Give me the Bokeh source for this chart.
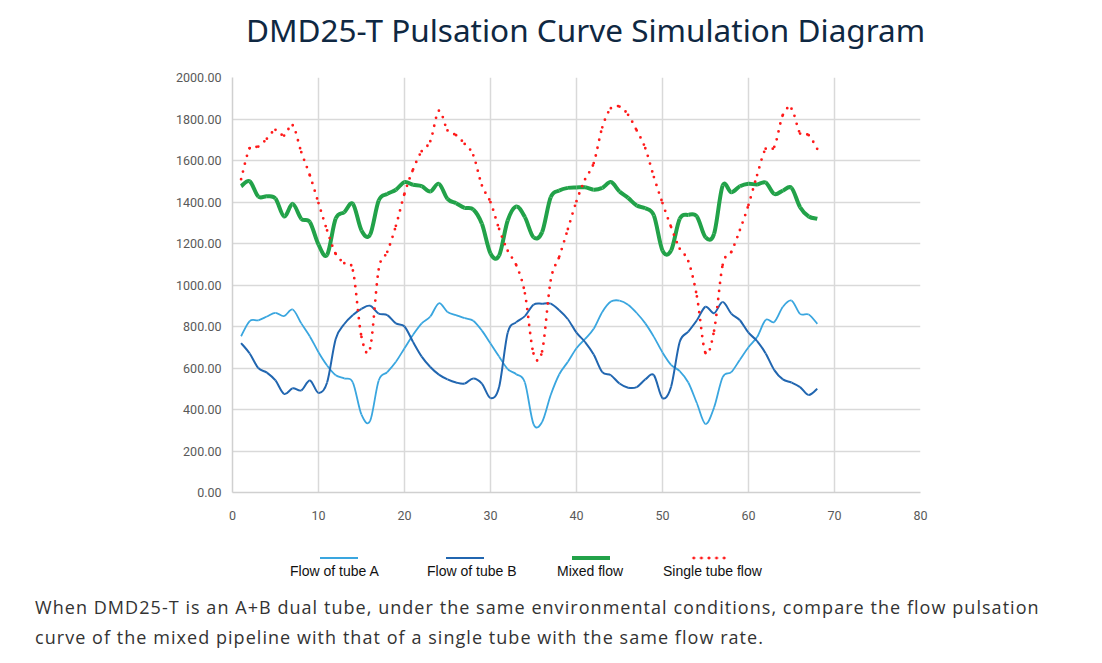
from bokeh.plotting import figure
from bokeh.models import Range1d, FixedTicker, PrintfTickFormatter, Div
from bokeh.layouts import column
from bokeh.embed import file_html
from bokeh.resources import INLINE

# ---------------------------------------------------------------- data
x_points = list(range(1, 69))

flow_a = [
    753, 826, 830, 848, 866, 850, 882, 815, 752, 676,
    612, 565, 550, 530, 375, 345, 540, 580, 630, 695,
    760, 815, 848, 912, 870, 855, 840, 828, 780, 718,
    655, 595, 570, 530, 330, 340, 470, 570, 630, 695,
    740, 789, 870, 920, 925, 905, 865, 815, 750, 675,
    615, 585, 530, 430, 330, 410, 556, 580, 640, 700,
    749, 832, 822, 895, 925, 861, 858, 813,
]

flow_b = [
    720, 670, 600, 578, 540, 475, 502, 492, 540, 480,
    530, 740, 812, 855, 885, 900, 862, 855, 815, 800,
    725, 655, 605, 568, 545, 530, 525, 550, 525, 455,
    508, 770, 821, 850, 905, 910, 910, 878, 835, 770,
    725, 665, 580, 565, 525, 505, 508, 545, 565, 455,
    510, 725, 775, 830, 895, 864, 918, 862, 830, 770,
    730, 670, 590, 545, 530, 508, 470, 500,
]

mixed_flow = [
    1476, 1500, 1426, 1428, 1417, 1330, 1391, 1319, 1303, 1195,
    1145, 1320, 1351, 1391, 1263, 1242, 1407, 1439, 1459, 1496,
    1483, 1476, 1451, 1488, 1415, 1394, 1372, 1364, 1295, 1152,
    1142, 1311, 1378, 1327, 1230, 1255, 1423, 1455, 1468, 1470,
    1471, 1459, 1468, 1496, 1451, 1420, 1383, 1370, 1335, 1166,
    1166, 1319, 1338, 1330, 1230, 1247, 1479, 1447, 1476, 1488,
    1484, 1494, 1439, 1455, 1468, 1375, 1330, 1319,
]

single_flow = [
    1510, 1660, 1667, 1705, 1748, 1720, 1770, 1640, 1528, 1395,
    1263, 1150, 1105, 1070, 750, 695, 1075, 1160, 1285, 1440,
    1557, 1645, 1693, 1840, 1745, 1722, 1680, 1625, 1480, 1399,
    1270, 1165, 1095, 960, 670, 680, 1022, 1137, 1270, 1404,
    1510, 1587, 1760, 1852, 1860, 1820, 1745, 1659, 1520, 1395,
    1279, 1175, 1115, 945, 672, 780, 1097, 1160, 1265, 1386,
    1530, 1657, 1666, 1820, 1850, 1730, 1722, 1655,
]

x_ticks = [0, 10, 20, 30, 40, 50, 60, 70, 80]
y_ticks = [0, 200, 400, 600, 800, 1000, 1200, 1400, 1600, 1800, 2000]

series_names = ["Flow of tube A", "Flow of tube B", "Mixed flow", "Single tube flow"]

title_text = "DMD25-T Pulsation Curve Simulation Diagram"
caption_lines = [
    "When DMD25-T is an A+B dual tube, under the same environmental conditions, compare the flow pulsation",
    "curve of the mixed pipeline with that of a single tube with the same flow rate.",
]

colors = ["#3aa6df", "#2166b0", "#22a249", "#ff1a1a"]


def smooth_segments(xs, ys):
    """Bezier pieces for an Excel-like smoothed line (Catmull-Rom)."""
    n = len(xs)
    seg = dict(x0=[], y0=[], x1=[], y1=[], cx0=[], cy0=[], cx1=[], cy1=[])
    for i in range(n - 1):
        a = max(i - 1, 0)
        d = min(i + 2, n - 1)
        seg['x0'].append(xs[i])
        seg['y0'].append(ys[i])
        seg['x1'].append(xs[i + 1])
        seg['y1'].append(ys[i + 1])
        seg['cx0'].append(xs[i] + (xs[i + 1] - xs[a]) / 6)
        seg['cy0'].append(ys[i] + (ys[i + 1] - ys[a]) / 6)
        seg['cx1'].append(xs[i + 1] - (xs[d] - xs[i]) / 6)
        seg['cy1'].append(ys[i + 1] - (ys[d] - ys[i]) / 6)
    return seg


# --------------------------------------------------------------- title
title_div = Div(
    text=f"<div style=\"padding:12px 0 0 246px;line-height:36px;white-space:nowrap;"
         f"font-family:'Noto Sans';font-size:31.5px;color:#0f2842;\">{title_text}</div>",
    width=1086, height=54, margin=0,
)

# -------------------------------------------------------------- figure
p = figure(
    width=1086, height=478,
    x_range=Range1d(0, 80), y_range=Range1d(0, 2000),
    output_backend="svg", toolbar_location=None, tools="",
    min_border_left=232, min_border_right=166,
    min_border_top=23, min_border_bottom=40,
    margin=0,
)
p.outline_line_color = None
p.background_fill_color = "white"

# axes and grid
for ax in (p.xaxis, p.yaxis):
    ax.axis_line_color = "#d0d0d0"
    ax.axis_line_width = 1.5
    ax.major_tick_line_color = None
    ax.minor_tick_line_color = None
    ax.major_label_text_font = "Roboto"
    ax.major_label_text_font_size = "12.5px"
    ax.major_label_text_color = "#595959"

p.xaxis.ticker = FixedTicker(ticks=x_ticks)
p.yaxis.ticker = FixedTicker(ticks=y_ticks)
p.yaxis.formatter = PrintfTickFormatter(format="%.2f")
p.xaxis.major_label_standoff = 12
p.yaxis.major_label_standoff = 5

p.xgrid.grid_line_color = "#d9d9d9"
p.ygrid.grid_line_color = "#d9d9d9"
p.xgrid.grid_line_width = 1.5
p.ygrid.grid_line_width = 1.5

# -------------------------------------------------------------- curves
styles = [
    dict(line_color=colors[0], line_width=1.8),
    dict(line_color=colors[1], line_width=2),
    dict(line_color=colors[2], line_width=4),
    dict(line_color=colors[3], line_width=2.8, line_dash="0 8", line_cap="round"),
]
values = [flow_a, flow_b, mixed_flow, single_flow]

for ys, st in zip(values, styles):
    seg = smooth_segments(x_points, ys)
    p.bezier(x0='x0', y0='y0', x1='x1', y1='y1',
             cx0='cx0', cy0='cy0', cx1='cx1', cy1='cy1',
             source=seg, **st)

# -------------------------------------------------------------- legend
# key line sits above its label, as in the original chart
key_css = [
    f"border-top:2px solid {colors[0]};",
    f"border-top:2px solid {colors[1]};",
    f"border-top:4px solid {colors[2]};margin-top:-1px;",
    f"height:4px;margin-top:-1px;background-image:radial-gradient(circle, {colors[3]} 1.3px, transparent 1.7px);"
    "background-size:7.6px 4px;background-position:0 0;",
]
key_left = [320, 446, 572, 690]
label_left = [290, 427, 557, 663]
parts = []
for name, css, kx, lx in zip(series_names, key_css, key_left, label_left):
    parts.append(f"<div style=\"position:absolute;left:{kx}px;top:25px;width:38px;{css}\"></div>")
    parts.append(f"<div style=\"position:absolute;left:{lx}px;top:31px;white-space:nowrap;\">{name}</div>")
legend_div = Div(
    text="<div style=\"position:relative;width:1086px;height:60px;"
         "font-family:'Liberation Sans';font-size:14px;line-height:16px;color:#111111;\">"
         + "".join(parts) + "</div>",
    width=1086, height=60, margin=0,
)

# ------------------------------------------------------------- caption
caption = Div(
    text="<div style=\"padding-left:35px;font-family:'Open Sans';font-size:18px;"
         "letter-spacing:1.05px;line-height:30px;color:#333333;white-space:nowrap;\">"
         + "<br>".join(caption_lines) + "</div>",
    width=1086, margin=0,
)

layout = column(title_div, p, legend_div, caption, spacing=0)
open("out.html", "w").write(file_html(layout, INLINE))
